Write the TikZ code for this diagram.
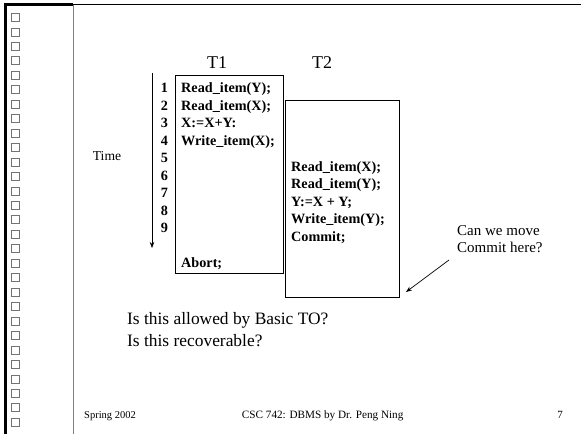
\documentclass[tikz,border=0pt]{standalone}
\usepackage{fontspec}
\setmainfont{Liberation Serif}
\usetikzlibrary{arrows.meta}
\begin{document}
\begin{tikzpicture}[x=1pt,y=-1pt,
  code/.style={font=\fontsize{14.2}{17}\selectfont\bfseries, anchor=base west, inner sep=0pt},
  num/.style={font=\fontsize{14.2}{17}\selectfont\bfseries, anchor=base, inner sep=0pt},
  txt/.style={inner sep=0pt, anchor=base west},
  tbox/.style={draw, line width=0.8pt, anchor=north west, inner sep=0pt},
  sq/.style={draw=black!55, fill=white, line width=0.9pt},
  arr/.style={-{Stealth[length=6pt,width=4.5pt]}, line width=0.7pt}]
\useasboundingbox (0,0) rectangle (581,434);
% slide frame
\draw[line width=3pt] (5.5,434) -- (5.5,4.5) -- (73,4.5);
\draw[line width=1.8pt] (73,4.5) -- (581,4.5);
\draw[black!50, line width=1.3pt] (73.5,5) -- (73.5,434);
\foreach \i in {0,...,28} \draw[sq] (11.5,{13.5+\i*14.46}) rectangle ++(8,8);
% boxes
\node[tbox, minimum width=108pt, minimum height=198pt] (t1box) at (175,75) {};
\node[tbox, minimum width=114pt, minimum height=197pt] (t2box) at (285,100) {};
% headers
\node[font=\fontsize{18}{20}\selectfont, inner sep=0pt] (t1) at (217,63) {T1};
\node[font=\fontsize{18}{20}\selectfont, inner sep=0pt] (t2) at (322,63) {T2};
\node[font=\fontsize{13.6}{16}\selectfont, inner sep=0pt] (time) at (107,156) {Time};
% time arrow
\coordinate (ta) at (152,73);
\coordinate (tb) at (152,248);
\draw[arr] (ta) -- (tb);
% step numbers
\foreach \n in {1,...,9} \node[num] (n\n) at (164.5,{92.7+(\n-1)*17.5}) {\n};
% T1 ops
\node[code] (a1) at (181,92.7) {Read\_item(Y);};
\node[code] (a2) at (181,110.2) {Read\_item(X);};
\node[code] (a3) at (181,127.7) {X:=X+Y:};
\node[code] (a4) at (181,145.2) {Write\_item(X);};
\node[code] (a5) at (181,267.7) {Abort;};
% T2 ops
\node[code] (b1) at (291,171) {Read\_item(X);};
\node[code] (b2) at (291,188.5) {Read\_item(Y);};
\node[code] (b3) at (291,206) {Y:=X + Y;};
\node[code] (b4) at (291,223.5) {Write\_item(Y);};
\node[code] (b5) at (291,241) {Commit;};
% question
\node[txt, font=\fontsize{15}{17}\selectfont] (q1) at (457,235) {Can we move};
\node[txt, font=\fontsize{15}{17}\selectfont] (q2) at (457,252) {Commit here?};
\coordinate (qs) at (449,260);
\coordinate (qe) at (406,292);
\draw[arr] (qs) -- (qe);
% bottom questions
\node[txt, font=\fontsize{17.4}{21}\selectfont] (l1) at (127,324) {Is this allowed by Basic TO?};
\node[txt, font=\fontsize{17.4}{21}\selectfont] (l2) at (127,346) {Is this recoverable?};
% footer
\node[txt, font=\fontsize{10.5}{12}\selectfont] (f1) at (84,418) {Spring 2002};
\node[font=\fontsize{11.2}{13}\selectfont, inner sep=0pt, anchor=base] (f2) at (322.7,418) {CSC 742: DBMS by Dr. Peng Ning};
\node[font=\fontsize{11}{13}\selectfont, inner sep=0pt, anchor=base east] (f3) at (563,418) {7};
\end{tikzpicture}
\end{document}
